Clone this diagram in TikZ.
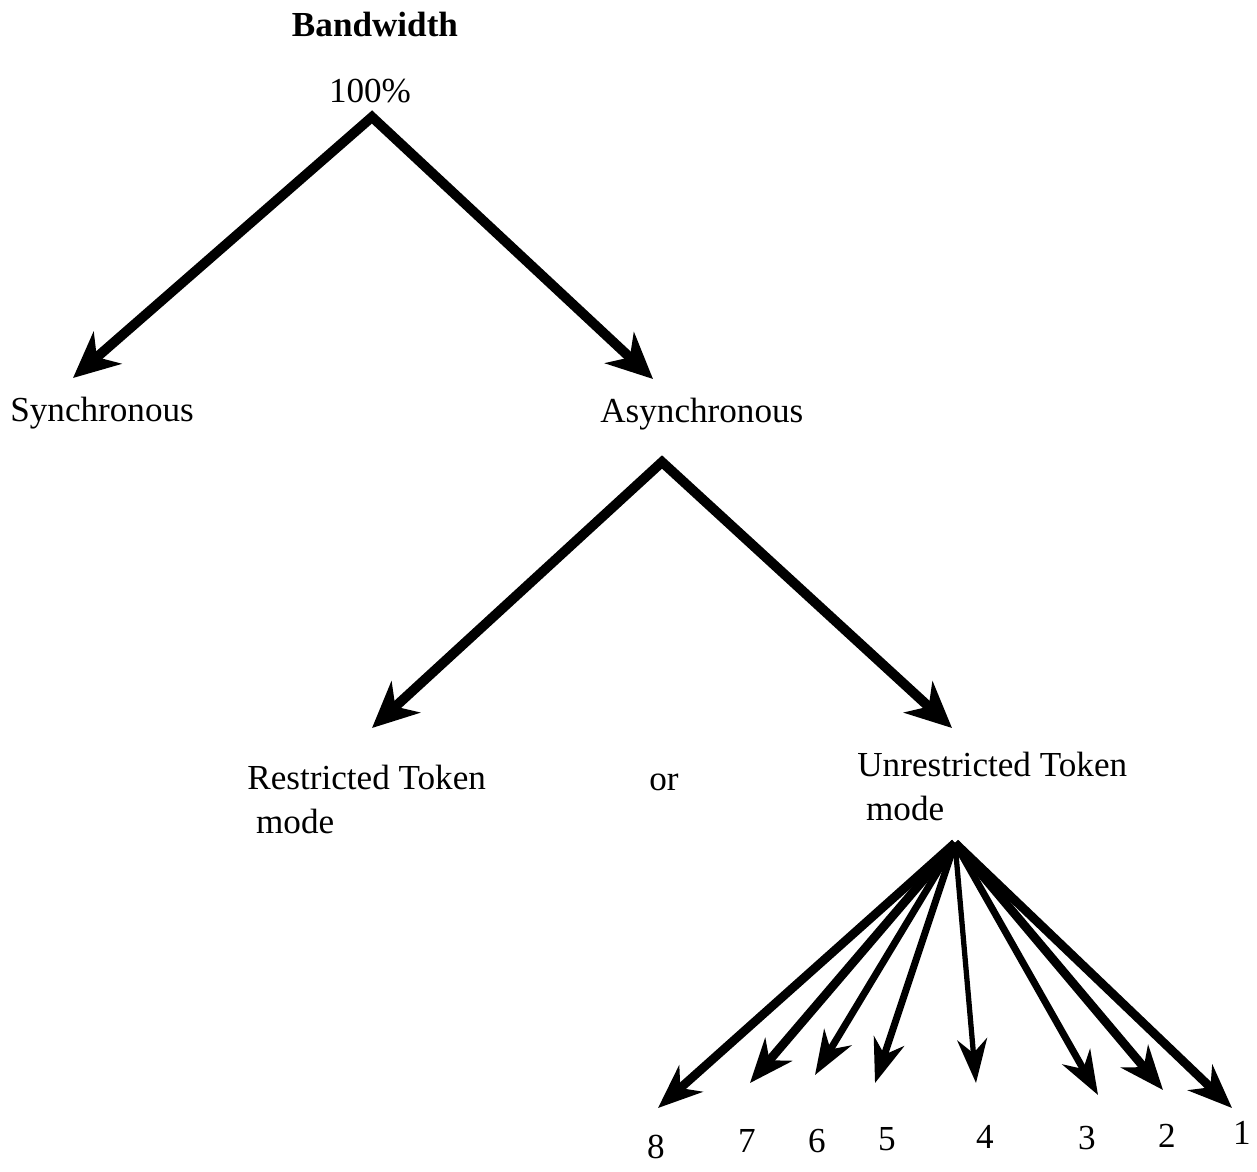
\documentclass[tikz,border=0pt]{standalone}
\usepackage{fontspec}
\setmainfont{Liberation Serif}
\usetikzlibrary{arrows.meta}
\begin{document}
\begin{tikzpicture}[x=0.02cm,y=-0.02cm,
  lbl/.style={inner sep=0pt,font=\fontsize{20}{25}\selectfont},
  bigarrow/.style={line width=5.6pt,line cap=butt,miter limit=20,
    arrows={Stealth[length=26pt,width=24pt,inset=8pt]-Stealth[length=26pt,width=24pt,inset=8pt]}},
  fanthick/.style={line width=5pt,-{Stealth[length=25pt,width=20pt,inset=8pt]}},
  fanmid/.style={line width=4pt,-{Stealth[length=25pt,width=18pt,inset=8pt]}},
  fanthin/.style={line width=3pt,-{Stealth[length=25pt,width=17pt,inset=8pt]}}]
\useasboundingbox (0,0) rectangle (1257,1172);

% headings
\node[lbl,font=\fontsize{20}{25}\selectfont\bfseries,anchor=base] (bw) at (375,37) {Bandwidth};
\node[lbl,anchor=base] (pct) at (370,103) {100\%};

% first split
\coordinate (top) at (372,117);
\coordinate (syncTip) at (73,378);
\coordinate (asyncTip) at (653,379);
\node[lbl,anchor=base west] (sync) at (10,421) {Synchronous};
\node[lbl,anchor=base west] (async) at (600,422) {Asynchronous};
\draw[bigarrow] (syncTip) -- (top) -- (asyncTip);

% second split
\coordinate (mid) at (662,462);
\coordinate (restTip) at (372,728);
\coordinate (unrestTip) at (952,728);
\node[lbl,anchor=base west,align=left] (rest) at (247,833) {Restricted Token\\\hspace*{0.25em}mode};
\node[lbl,anchor=base] (or) at (664,790) {or};
\node[lbl,anchor=base west,align=left] (unrest) at (857,820) {Unrestricted Token\\\hspace*{0.25em}mode};
\draw[bigarrow] (restTip) -- (mid) -- (unrestTip);

% fan of priority levels
\coordinate (fan) at (955,843);
\coordinate (t8) at (658,1108);
\coordinate (t7) at (750,1083);
\coordinate (t6) at (815,1075);
\coordinate (t5) at (875,1083);
\coordinate (t4) at (976,1083);
\coordinate (t3) at (1098,1095);
\coordinate (t2) at (1163,1090);
\coordinate (t1) at (1232,1108);
\draw[fanthick] (fan) -- (t8);
\draw[fanthick] (fan) -- (t7);
\draw[fanmid] (fan) -- (t6);
\draw[fanmid] (fan) -- (t5);
\draw[fanthin] (fan) -- (t4);
\draw[fanmid] (fan) -- (t3);
\draw[fanthick] (fan) -- (t2);
\draw[fanthick] (fan) -- (t1);

\node[lbl,anchor=base] (n8) at (656,1158) {8};
\node[lbl,anchor=base] (n7) at (747,1152) {7};
\node[lbl,anchor=base] (n6) at (817,1152) {6};
\node[lbl,anchor=base] (n5) at (887,1150) {5};
\node[lbl,anchor=base] (n4) at (985,1148) {4};
\node[lbl,anchor=base] (n3) at (1087,1149) {3};
\node[lbl,anchor=base] (n2) at (1167,1147) {2};
\node[lbl,anchor=base] (n1) at (1242,1144) {1};
\end{tikzpicture}
\end{document}
